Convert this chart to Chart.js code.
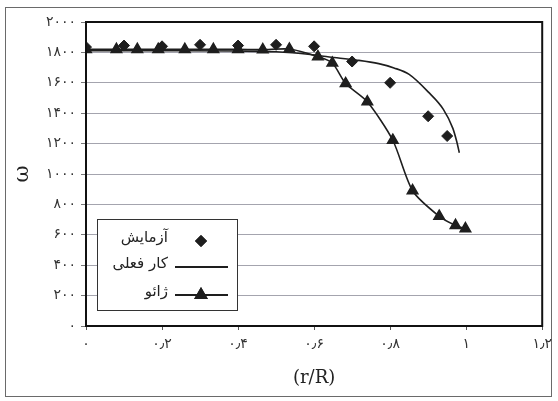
<!DOCTYPE html>
<html>
<head>
<meta charset="utf-8">
<script src="https://cdn.jsdelivr.net/npm/chart.js@4/dist/chart.umd.min.js"></script>
<style>
  html, body { margin: 0; padding: 0; background: #fff; }
  #wrap { width: 558px; height: 401px; position: relative; }
</style>
</head>
<body>
<div id="wrap"><canvas id="c" width="558" height="401"></canvas></div>
<script>
// ---- data ----
const seriesNames = ['آزمایش', 'کار فعلی', 'ژائو'];

const expX = [0, 0.1, 0.2, 0.3, 0.4, 0.5, 0.6, 0.7, 0.8, 0.9, 0.95];
const expY = [1835, 1845, 1840, 1850, 1845, 1850, 1840, 1740, 1600, 1380, 1250];

const curX = [0, 0.2, 0.4, 0.5, 0.59, 0.64, 0.71, 0.77, 0.81, 0.85, 0.9, 0.94, 0.965, 0.975, 0.982];
const curY = [1812, 1811, 1809, 1804, 1786, 1770, 1750, 1726, 1698, 1655, 1540, 1425, 1300, 1215, 1140];

const zhaoX = [0, 0.08, 0.135, 0.19, 0.26, 0.335, 0.40, 0.465, 0.535, 0.61, 0.648, 0.683, 0.74, 0.807, 0.859, 0.929, 0.972, 0.998];
const zhaoY = [1820, 1820, 1820, 1820, 1820, 1820, 1820, 1818, 1822, 1772, 1730, 1595, 1475, 1222, 890, 722, 662, 640];

const xTickValues = [0, 0.2, 0.4, 0.6, 0.8, 1, 1.2];
const xTickLabels = ['۰', '۰٫۲', '۰٫۴', '۰٫۶', '۰٫۸', '۱', '۱٫۲'];
const yTickValues = [0, 200, 400, 600, 800, 1000, 1200, 1400, 1600, 1800, 2000];
const yTickLabels = ['۰', '۲۰۰', '۴۰۰', '۶۰۰', '۸۰۰', '۱۰۰۰', '۱۲۰۰', '۱۴۰۰', '۱۶۰۰', '۱۸۰۰', '۲۰۰۰'];
const xTitle = '(r/R)';
const yTitle = 'ω';

const toPts = (xs, ys) => xs.map((x, i) => ({ x: x, y: ys[i] }));
const labelFor = (vals, labels, v) => {
  const i = vals.findIndex(t => Math.abs(t - v) < 1e-6);
  return i >= 0 ? labels[i] : '';
};

const ink = '#1e1e1e';

const framePlugin = {
  id: 'frame',
  beforeDraw(chart) {
    const ctx = chart.ctx;
    ctx.save();
    ctx.fillStyle = '#fff';
    ctx.fillRect(0, 0, chart.width, chart.height);
    ctx.strokeStyle = '#6a6a6a';
    ctx.lineWidth = 1;
    ctx.strokeRect(5.5, 7.5, 546, 389);
    ctx.restore();
  },
  afterDatasetsDraw(chart) {
    const ctx = chart.ctx;
    const a = chart.chartArea;
    ctx.save();
    ctx.strokeStyle = '#111';
    ctx.lineWidth = 2;
    ctx.strokeRect(a.left, a.top, a.right - a.left, a.bottom - a.top);
    ctx.restore();
  },
  afterDraw(chart) {
    // legend box inside the plot
    const ctx = chart.ctx;
    const bx = 97, by = 219, bw = 140, bh = 91;
    ctx.save();
    ctx.fillStyle = '#fff';
    ctx.fillRect(bx, by, bw, bh);
    ctx.strokeStyle = '#333';
    ctx.lineWidth = 1;
    ctx.strokeRect(bx + 0.5, by + 0.5, bw, bh);
    const rows = [241, 267, 295];
    const ds = chart.data.datasets;
    ctx.font = '15px "DejaVu Sans"';
    ctx.textAlign = 'right';
    ctx.textBaseline = 'middle';
    ds.forEach((d, i) => {
      const y = rows[i];
      ctx.fillStyle = '#222';
      ctx.fillText(d.label, 168, y - 3);
      if (d.showLine) {
        ctx.strokeStyle = d.borderColor;
        ctx.lineWidth = 2;
        ctx.beginPath();
        ctx.moveTo(175, y);
        ctx.lineTo(228, y);
        ctx.stroke();
      }
      if (d.pointRadius > 0) {
        Chart.helpers.drawPoint(ctx, {
          pointStyle: d.pointStyle, radius: d.pointRadius, borderWidth: 1, rotation: 0
        }, 201, y);
        ctx.fillStyle = d.backgroundColor;
        ctx.strokeStyle = d.borderColor;
        ctx.fill();
        ctx.stroke();
      }
    });
    ctx.restore();
  }
};

new Chart(document.getElementById('c'), {
  type: 'scatter',
  data: {
    datasets: [
      {
        label: seriesNames[0], data: toPts(expX, expY), showLine: false,
        pointStyle: 'rectRot', pointRadius: 5.5, pointBackgroundColor: ink,
        backgroundColor: ink, borderColor: ink, pointBorderColor: ink, pointBorderWidth: 1
      },
      {
        label: seriesNames[1], data: toPts(curX, curY), showLine: true,
        pointRadius: 0, borderColor: ink, backgroundColor: ink, borderWidth: 1.6,
        cubicInterpolationMode: 'monotone'
      },
      {
        label: seriesNames[2], data: toPts(zhaoX, zhaoY), showLine: true,
        pointStyle: 'triangle', pointRadius: 6, pointBackgroundColor: ink, pointBorderColor: ink,
        backgroundColor: ink, borderColor: ink, borderWidth: 1.6, tension: 0.25
      }
    ]
  },
  options: {
    responsive: false,
    animation: false,
    devicePixelRatio: 1,
    layout: { padding: { top: 22, right: 12, left: 0, bottom: 0 } },
    plugins: { legend: { display: false }, tooltip: { enabled: false } },
    scales: {
      x: {
        type: 'linear', min: 0, max: 1.2,
        afterBuildTicks(scale) { scale.ticks = xTickValues.map(v => ({ value: v })); },
        afterFit(scale) { scale.height = 75; },
        ticks: {
          callback: v => labelFor(xTickValues, xTickLabels, v),
          font: { family: '"DejaVu Sans"', size: 14 }, color: '#333', padding: 6, maxRotation: 0
        },
        grid: { drawOnChartArea: false, drawTicks: true, tickLength: 4, color: '#555' },
        border: { color: '#111', width: 2 },
        title: {
          display: true, text: xTitle, color: '#222',
          font: { family: '"DejaVu Serif"', size: 18 }, padding: { top: 0, bottom: 12 }
        }
      },
      y: {
        type: 'linear', min: 0, max: 2000,
        afterBuildTicks(scale) { scale.ticks = yTickValues.map(v => ({ value: v })); },
        afterFit(scale) { scale.width = 86; },
        ticks: {
          callback: v => labelFor(yTickValues, yTickLabels, v),
          font: { family: '"DejaVu Sans"', size: 14 }, color: '#333', padding: 5
        },
        grid: { color: '#a4a4ae', lineWidth: 1, drawTicks: true, tickLength: 5, tickColor: '#777' },
        border: { color: '#111', width: 2 },
        title: {
          display: true, text: yTitle, color: '#222',
          font: { family: '"DejaVu Serif"', size: 21 }, padding: { top: 10, bottom: 0 }
        }
      }
    }
  },
  plugins: [framePlugin]
});
</script>
</body>
</html>
